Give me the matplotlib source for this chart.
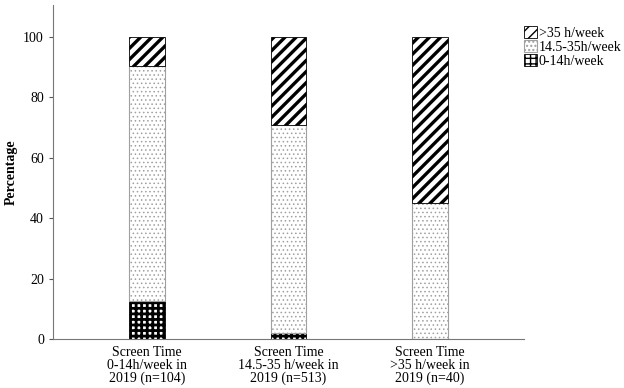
import matplotlib.pyplot as plt
import numpy as np

# data
categories = ["Screen Time\n0-14h/week in\n2019 (n=104)",
              "Screen Time\n14.5-35 h/week in\n2019 (n=513)",
              "Screen Time\n>35 h/week in\n2019 (n=40)"]
low = [12.5, 2.1, 0.0]      # 0-14h/week
mid = [77.9, 68.8, 45.0]    # 14.5-35h/week
high = [9.6, 29.1, 55.0]    # >35 h/week

plt.rcParams['font.family'] = ['Liberation Serif', 'DejaVu Serif']

fig = plt.figure(figsize=(6.24, 3.88), dpi=100)
ax = fig.add_axes([53/624, 1 - 339/388, 471/624, 334/388])

x = np.arange(len(categories))
w = 0.254
with plt.rc_context({'hatch.linewidth': 2.0}):
    b1 = ax.bar(x, low, w, color='white', edgecolor='black', hatch='+++', linewidth=0.6,
                label='0-14h/week')
with plt.rc_context({'hatch.linewidth': 0.6}):
    b2 = ax.bar(x, mid, w, bottom=low, color='white', edgecolor='#a0a0a0', hatch='....',
                linewidth=0.8, label='14.5-35h/week')
bottom3 = np.array(low) + np.array(mid)
with plt.rc_context({'hatch.linewidth': 2.4}):
    b3 = ax.bar(x, high, w, bottom=bottom3, color='white', edgecolor='black', hatch='///',
                linewidth=0.6, label='>35 h/week')

ax.set_xlim(-0.664, 2.664)
ax.set_ylim(0, 110.6)
ax.set_yticks([0, 20, 40, 60, 80, 100])
ax.set_xticks(x)
ax.set_xticklabels(categories, fontsize=10, linespacing=1.0)
ax.tick_params(axis='x', length=0, pad=5)
ax.tick_params(axis='y', length=3, labelsize=10, color='#555555')
ax.set_ylabel('Percentage', fontsize=10, fontweight='bold', labelpad=4)

for s in ['top', 'right']:
    ax.spines[s].set_visible(False)
for s in ['left', 'bottom']:
    ax.spines[s].set_color('#777777')
    ax.spines[s].set_linewidth(0.8)

handles = [b3, b2, b1]
fig.legend(handles, [h.get_label() for h in handles], loc='upper left',
           bbox_to_anchor=(524/624, 1 - 26/388), frameon=False, fontsize=10,
           handlelength=0.9, handleheight=0.9, handletextpad=0.15,
           labelspacing=0.05, borderaxespad=0.0, borderpad=0.0)

fig.savefig('out.png', dpi=100)
